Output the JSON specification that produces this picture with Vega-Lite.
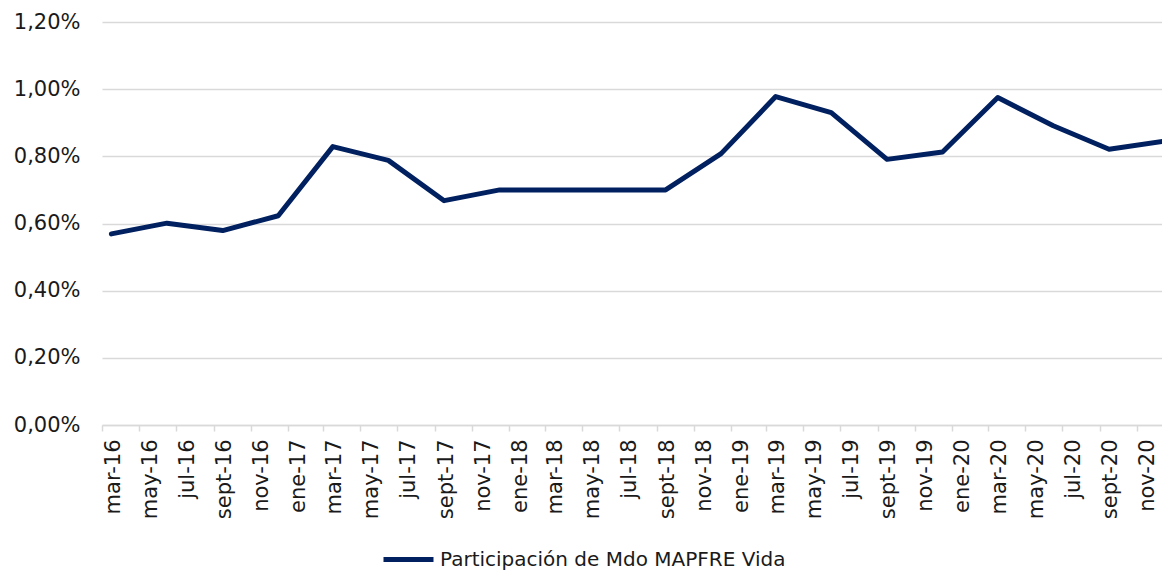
{
  "$schema": "https://vega.github.io/schema/vega-lite/v6.json",
  "width": 1072,
  "height": 403,
  "autosize": {"type": "none"},
  "padding": {"left": 102, "top": 22, "right": 0, "bottom": 146},
  "background": "white",
  "config": {"view": {"stroke": null}, "font": "DejaVu Sans"},
  "data": {
    "values": [
      {"fecha": "2016-03-01", "serie": "Participación de Mdo MAPFRE Vida", "valor": 0.00569},
      {"fecha": "2016-06-01", "serie": "Participación de Mdo MAPFRE Vida", "valor": 0.00601},
      {"fecha": "2016-09-01", "serie": "Participación de Mdo MAPFRE Vida", "valor": 0.00579},
      {"fecha": "2016-12-01", "serie": "Participación de Mdo MAPFRE Vida", "valor": 0.00623},
      {"fecha": "2017-03-01", "serie": "Participación de Mdo MAPFRE Vida", "valor": 0.00829},
      {"fecha": "2017-06-01", "serie": "Participación de Mdo MAPFRE Vida", "valor": 0.00788},
      {"fecha": "2017-09-01", "serie": "Participación de Mdo MAPFRE Vida", "valor": 0.00668},
      {"fecha": "2017-12-01", "serie": "Participación de Mdo MAPFRE Vida", "valor": 0.00700},
      {"fecha": "2018-03-01", "serie": "Participación de Mdo MAPFRE Vida", "valor": 0.00700},
      {"fecha": "2018-06-01", "serie": "Participación de Mdo MAPFRE Vida", "valor": 0.00700},
      {"fecha": "2018-09-01", "serie": "Participación de Mdo MAPFRE Vida", "valor": 0.00700},
      {"fecha": "2018-12-01", "serie": "Participación de Mdo MAPFRE Vida", "valor": 0.00808},
      {"fecha": "2019-03-01", "serie": "Participación de Mdo MAPFRE Vida", "valor": 0.00978},
      {"fecha": "2019-06-01", "serie": "Participación de Mdo MAPFRE Vida", "valor": 0.00930},
      {"fecha": "2019-09-01", "serie": "Participación de Mdo MAPFRE Vida", "valor": 0.00791},
      {"fecha": "2019-12-01", "serie": "Participación de Mdo MAPFRE Vida", "valor": 0.00813},
      {"fecha": "2020-03-01", "serie": "Participación de Mdo MAPFRE Vida", "valor": 0.00975},
      {"fecha": "2020-06-01", "serie": "Participación de Mdo MAPFRE Vida", "valor": 0.00891},
      {"fecha": "2020-09-01", "serie": "Participación de Mdo MAPFRE Vida", "valor": 0.00821},
      {"fecha": "2020-12-01", "serie": "Participación de Mdo MAPFRE Vida", "valor": 0.00845}
    ]
  },
  "mark": {"type": "line", "strokeWidth": 5, "strokeCap": "round", "strokeJoin": "round", "clip": false},
  "encoding": {
    "x": {
      "field": "fecha",
      "type": "temporal",
      "timeUnit": "utcyearmonth",
      "bandPosition": 0.5,
      "scale": {
        "type": "utc",
        "domain": [
          {"year": 2016, "month": 3, "date": 1, "utc": true},
          {"year": 2021, "month": 1, "date": 1, "utc": true}
        ]
      },
      "axis": {
        "title": null,
        "grid": false,
        "tickCount": {"interval": "month", "step": 2},
        "labelExpr": "utcyear(datum.value) > 2020 ? '' : ['ene','feb','mar','abr','may','jun','jul','ago','sept','oct','nov','dic'][utcmonth(datum.value)] + '-' + utcFormat(datum.value, '%y')",
        "labelAngle": -90,
        "labelAlign": "right",
        "labelBaseline": "middle",
        "labelOffset": 11,
        "labelPadding": 8,
        "labelFontSize": 21,
        "labelColor": "#1a1a1a",
        "labelOverlap": false,
        "labelFlush": false,
        "labelBound": false,
        "domainColor": "#d9d9d9",
        "domainWidth": 1.5,
        "tickColor": "#d9d9d9",
        "tickWidth": 1.5,
        "tickSize": 6
      }
    },
    "y": {
      "field": "valor",
      "type": "quantitative",
      "scale": {"domain": [0, 0.012], "nice": false},
      "axis": {
        "title": null,
        "values": [0, 0.002, 0.004, 0.006, 0.008, 0.01, 0.012],
        "labelExpr": "replace(format(datum.value, '.2%'), '.', ',')",
        "domain": false,
        "ticks": false,
        "grid": true,
        "gridColor": "#d9d9d9",
        "gridWidth": 1.5,
        "labelPadding": 22,
        "labelFontSize": 21,
        "labelColor": "#1a1a1a"
      }
    },
    "color": {
      "field": "serie",
      "type": "nominal",
      "scale": {"range": ["#002060"]},
      "legend": {
        "title": null,
        "orient": "none",
        "legendX": 279,
        "legendY": 510,
        "symbolType": "stroke",
        "symbolStrokeWidth": 5,
        "symbolSize": 2500,
        "labelFontSize": 20,
        "labelColor": "#1a1a1a",
        "labelOffset": 4,
        "labelLimit": 600
      }
    }
  }
}
